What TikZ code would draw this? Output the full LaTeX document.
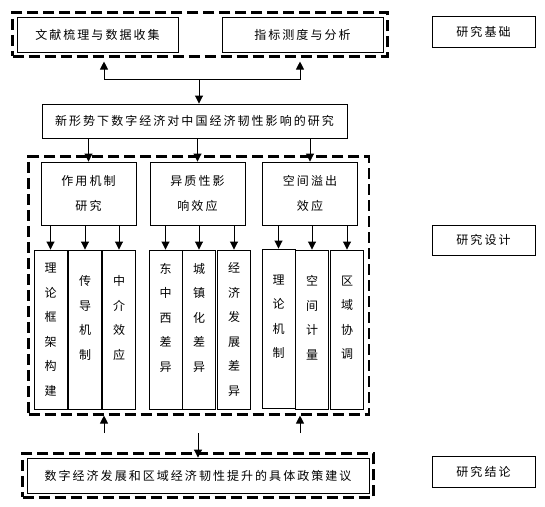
\documentclass[tikz,border=0pt]{standalone}
\usepackage{fontspec}
\newfontfamily\cjk[LetterSpace=17]{Noto Sans CJK SC}
\usepackage{tikz}
\usetikzlibrary{positioning,arrows.meta,fit,calc}
\tikzset{
  box/.style={draw=black, line width=0.9pt, align=center, inner sep=0pt, font=\cjk\fontsize{12}{25}\selectfont},
  topbox/.style={box, minimum width=161pt, minimum height=35pt},
  sidebox/.style={box, minimum width=103pt, minimum height=31pt},
  groupbox/.style={box, minimum width=95pt, minimum height=63pt},
  thinbox/.style={box, text width=14pt, minimum width=33pt, minimum height=159pt, font=\cjk\fontsize{12}{24.5}\selectfont},
  dashbox/.style={draw=black, line width=2.2pt, dash pattern=on 11pt off 5pt, inner sep=#1},
  dashbox/.default={4pt},
  arrow/.style={-{Triangle[length=8pt,width=8pt]}, line width=0.9pt}
}

\begin{document}
\begin{tikzpicture}[x=1pt, y=-1pt]
  \useasboundingbox (0,0) rectangle (545,506);
  % side labels
  \node[sidebox] (base) at (483.5,32) {研究基础};
  \node[sidebox, minimum height=30pt] (design) at (483.5,240) {研究设计};
  \node[sidebox] (concl) at (483.5,471.5) {研究结论};
  % research foundation
  \node[topbox] (lit) at (97.5,34.5) {文献梳理与数据收集};
  \node[topbox] (ind) at (302.5,34.5) {指标测度与分析};
  \node[dashbox, fit=(lit)(ind)] (found) {};
  \node[box, minimum width=305pt, minimum height=34pt] (topic) at (194.5,121) {新形势下数字经济对中国经济韧性影响的研究};
  \coordinate (hub) at (199,79);
  \draw[arrow] (hub) -| ($(lit.south |- found.south)+(6.5,4)$);
  \draw[arrow] (hub) -| ($(ind.south |- found.south)+(-2.5,4)$);
  \draw[arrow] (hub) -- (hub |- topic.north);
  % research design
  \node[groupbox] (mech) at (88.5,193.5) {作用机制\\研究};
  \node[groupbox] (hetero) at (197.5,193.5) {异质性影\\响效应};
  \node[groupbox] (spill) at (310,193.5) {空间溢出\\效应};
  \draw[arrow] (topic.south -| mech.north) -- (mech.north);
  \draw[arrow] (topic.south -| hetero.north) -- (hetero.north);
  \draw[arrow] (topic.south -| spill.north) -- (spill.north);
  \node[thinbox] (theory) at (50.5,329.5) {理\\论\\框\\架\\构\\建};
  \node[thinbox] (conduct) at (85,329.5) {传\\导\\机\\制\\\mbox{}};
  \node[thinbox] (mediate) at (119,329.5) {中\\介\\效\\应\\\mbox{}};
  \node[thinbox] (region) at (165.5,329.5) {东\\中\\西\\差\\异\\\mbox{}};
  \node[thinbox] (urban) at (199,329.5) {城\\镇\\化\\差\\异\\\mbox{}};
  \node[thinbox] (develop) at (234,329.5) {经\\济\\发\\展\\差\\异};
  \node[thinbox] (spmech) at (278.5,328.5) {理\\论\\机\\制\\\mbox{}};
  \node[thinbox] (spatial) at (312,329.5) {空\\间\\计\\量\\\mbox{}};
  \node[thinbox] (coord) at (347,329.5) {区\\域\\协\\调\\\mbox{}};
  \draw[arrow] (mech.south -| theory.north) -- (theory.north);
  \draw[arrow] (mech.south -| conduct.north) -- (conduct.north);
  \draw[arrow] (mech.south -| mediate.north) -- (mediate.north);
  \draw[arrow] (hetero.south -| region.north) -- (region.north);
  \draw[arrow] (hetero.south -| urban.north) -- (urban.north);
  \draw[arrow] (hetero.south -| develop.north) -- (develop.north);
  \draw[arrow] (spill.south -| spmech.north) -- (spmech.north);
  \draw[arrow] (spill.south -| spatial.north) -- (spatial.north);
  \draw[arrow] (spill.south -| coord.north) -- (coord.north);
  \node[dashbox=5pt, fit=(mech)(spill)(theory)(coord)] (study) {};
  % research conclusion
  \node[box, minimum width=342pt, minimum height=35pt] (policy) at (198,475.5) {数字经济发展和区域经济韧性提升的具体政策建议};
  \node[dashbox, fit=(policy)] (outcome) {};
  \coordinate (backA) at (104,433);
  \coordinate (backB) at (300,433);
  \coordinate (down) at (198,433);
  \draw[arrow] (backA) -- (backA |- study.south);
  \draw[arrow] (backB) -- (backB |- study.south);
  \draw[arrow] (down) -- (down |- policy.north);
\end{tikzpicture}
\end{document}
